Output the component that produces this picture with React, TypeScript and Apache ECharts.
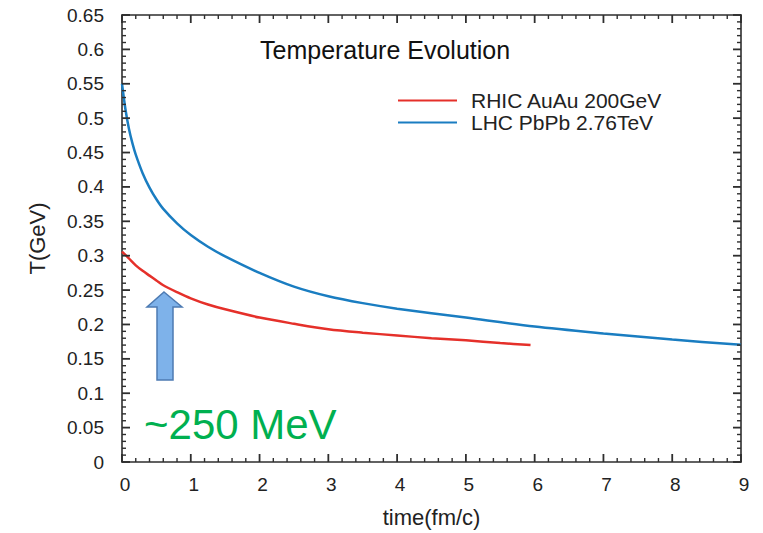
import React, { useEffect, useRef } from "react";
import * as echarts from "echarts";

const rhicTime = [0, 0.1, 0.2, 0.3, 0.4, 0.5, 0.6, 0.8, 1, 1.25, 1.5, 2, 2.5, 3, 3.5, 4, 4.5, 5, 5.5, 5.94];
const rhicTemp = [0.306, 0.296, 0.286, 0.278, 0.271, 0.264, 0.257, 0.247, 0.238, 0.229, 0.222, 0.21, 0.201, 0.193, 0.188, 0.184, 0.18, 0.177, 0.173, 0.17];

const lhcTime = [0, 0.05, 0.1, 0.15, 0.2, 0.3, 0.4, 0.5, 0.6, 0.8, 1, 1.25, 1.5, 2, 2.5, 3, 3.5, 4, 5, 6, 7, 8, 9];
const lhcTemp = [0.55, 0.513, 0.485, 0.464, 0.447, 0.42, 0.399, 0.382, 0.368, 0.347, 0.33, 0.313, 0.299, 0.275, 0.255, 0.241, 0.231, 0.223, 0.21, 0.197, 0.187, 0.178, 0.1705];

const seriesNames = ["RHIC AuAu 200GeV", "LHC PbPb 2.76TeV"];
const titleText = "Temperature Evolution";
const noteText = "~250 MeV";
const xName = "time(fm/c)";
const yName = "T(GeV)";

const xRange = [0, 9];
const xMajorStep = 1;
const xMinorPerMajor = 5;
const yRange = [0, 0.65];
const yMajorStep = 0.05;
const yMinorPerMajor = 5;

const FONT = "Liberation Sans, Arial, Helvetica, sans-serif";
const AXIS_COLOR = "#2e2e2e";

function tickValues(range: number[], step: number, per: number) {
  const out: { v: number; major: boolean }[] = [];
  const n = Math.round((range[1] - range[0]) / step) * per;
  for (let i = 0; i <= n; i++) {
    out.push({ v: Number((range[0] + (i * step) / per).toFixed(6)), major: i % per === 0 });
  }
  return out;
}

function makeAxis(kind: "x" | "y", position: string, showLabel: boolean) {
  const isX = kind === "x";
  const axis: any = {
    type: "value",
    position,
    min: isX ? xRange[0] : yRange[0],
    max: isX ? xRange[1] : yRange[1],
    interval: isX ? xMajorStep : yMajorStep,
    axisLine: { show: true, onZero: false, lineStyle: { color: AXIS_COLOR, width: 1.6 } },
    axisTick: { show: false },
    splitLine: { show: false },
    axisLabel: { show: false },
  };
  if (showLabel) {
    axis.name = isX ? xName : yName;
    axis.nameLocation = "middle";
    axis.nameGap = isX ? 44 : 74;
    axis.nameTextStyle = { fontSize: 22, color: "#222", fontFamily: FONT };
    axis.axisLabel = isX
      ? { show: true, margin: 13, fontSize: 19, color: "#222", fontFamily: FONT, padding: [0, 0, 0, 6] }
      : {
          show: true,
          margin: 18,
          fontSize: 19,
          color: "#222",
          fontFamily: FONT,
          formatter: (v: number) => String(Number(v.toFixed(2))),
        };
  }
  return axis;
}

export default function App() {
  const ref = useRef<HTMLDivElement>(null);
  useEffect(() => {
    if (!ref.current) return;
    const chart = echarts.init(ref.current, undefined, { renderer: "svg" });
    const baseGraphics: any[] = [
      {
        type: "text",
        x: 260,
        y: 50,
        style: { text: titleText, fontSize: 25, fill: "#111", fontFamily: FONT, textVerticalAlign: "middle", verticalAlign: "middle" },
      },
      {
        type: "polygon",
        shape: {
          points: [
            [164, 292],
            [182, 307],
            [173, 307],
            [173, 380],
            [157, 380],
            [157, 307],
            [147, 307],
          ],
        },
        style: { fill: "#7eb2ea", stroke: "#4d7bb3", lineWidth: 1.5 },
      },
      {
        type: "text",
        x: 144,
        y: 424,
        style: { text: noteText, fontSize: 42, fill: "#00b050", fontFamily: FONT, verticalAlign: "middle", textVerticalAlign: "middle" },
      },
    ];
    chart.setOption({
      animation: false,
      textStyle: { fontFamily: FONT },
      grid: { left: 122, right: 22, top: 15, bottom: 70, containLabel: false },
      legend: {
        orient: "vertical",
        left: 393,
        top: 85,
        itemWidth: 59,
        itemHeight: 14,
        itemGap: 1,
        icon: "path://M0,6 L59,6 L59,8 L0,8 Z",
        textStyle: { fontSize: 21, color: "#222", fontFamily: FONT, padding: [0, 0, 0, 9], lineHeight: 21 },
        data: seriesNames,
      },
      xAxis: [makeAxis("x", "bottom", true), makeAxis("x", "top", false)],
      yAxis: [makeAxis("y", "left", true), makeAxis("y", "right", false)],
      series: [
        {
          name: seriesNames[0],
          type: "line",
          xAxisIndex: 0,
          yAxisIndex: 0,
          showSymbol: false,
          symbol: "none",
          smooth: 0.3,
          color: "#e5302a",
          lineStyle: { color: "#e5302a", width: 2.5 },
          data: rhicTime.map((t, i) => [t, rhicTemp[i]]),
        },
        {
          name: seriesNames[1],
          type: "line",
          xAxisIndex: 0,
          yAxisIndex: 0,
          showSymbol: false,
          symbol: "none",
          smooth: 0.3,
          color: "#1a7dc1",
          lineStyle: { color: "#1a7dc1", width: 2.5 },
          data: lhcTime.map((t, i) => [t, lhcTemp[i]]),
        },
      ],
      graphic: baseGraphics,
    });

    // tick marks on all four sides as small filled rects, placed through the axes' scales
    const left = chart.convertToPixel({ xAxisIndex: 0 }, xRange[0]) as number;
    const right = chart.convertToPixel({ xAxisIndex: 0 }, xRange[1]) as number;
    const bottom = chart.convertToPixel({ yAxisIndex: 0 }, yRange[0]) as number;
    const top = chart.convertToPixel({ yAxisIndex: 0 }, yRange[1]) as number;
    const tickEls: any[] = [];
    const tickStyle = { fill: AXIS_COLOR };
    tickValues(xRange, xMajorStep, xMinorPerMajor).forEach(({ v, major }) => {
      const px = chart.convertToPixel({ xAxisIndex: 0 }, v) as number;
      const len = major ? 8 : 4;
      const w = major ? 1.8 : 1.4;
      tickEls.push({ type: "rect", silent: true, z: 50, shape: { x: px - w / 2, y: bottom - len, width: w, height: len }, style: tickStyle });
      tickEls.push({ type: "rect", silent: true, z: 50, shape: { x: px - w / 2, y: top, width: w, height: len }, style: tickStyle });
    });
    tickValues(yRange, yMajorStep, yMinorPerMajor).forEach(({ v, major }) => {
      const py = chart.convertToPixel({ yAxisIndex: 0 }, v) as number;
      const len = major ? 8 : 4;
      const w = major ? 1.8 : 1.4;
      tickEls.push({ type: "rect", silent: true, z: 50, shape: { x: left, y: py - w / 2, width: len, height: w }, style: tickStyle });
      tickEls.push({ type: "rect", silent: true, z: 50, shape: { x: right - len, y: py - w / 2, width: len, height: w }, style: tickStyle });
    });
    chart.setOption({ graphic: [...baseGraphics, ...tickEls] }, { replaceMerge: ["graphic"] });
    return () => chart.dispose();
  }, []);
  return <div ref={ref} style={{ position: "fixed", left: 0, top: 0, width: 763, height: 533, background: "#fff" }} />;
}
